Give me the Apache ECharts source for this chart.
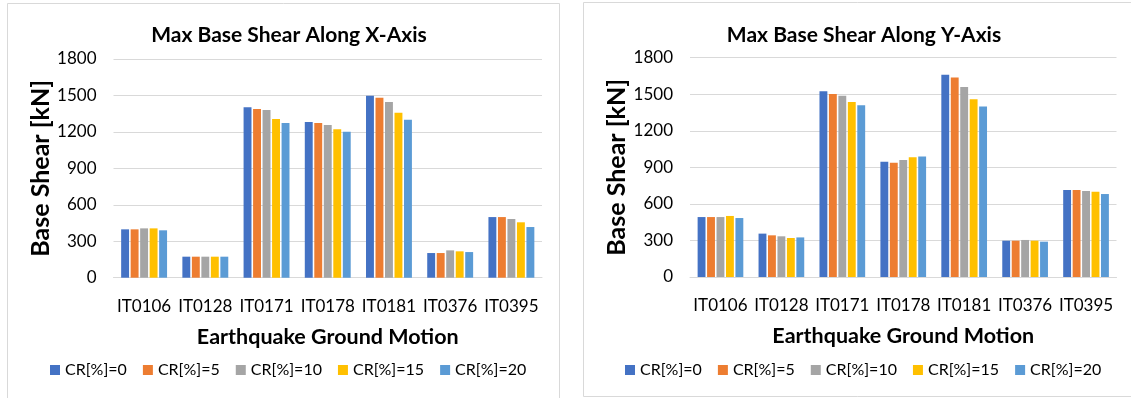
<!DOCTYPE html>
<html>
<head>
<meta charset="utf-8">
<script src="https://cdn.jsdelivr.net/npm/echarts@6/dist/echarts.min.js"></script>
<style>
html,body{margin:0;padding:0;background:#fff;}
#chart{width:1131px;height:398px;}
</style>
</head>
<body>
<div id="chart"></div>
<script>
const categories = ['IT0106', 'IT0128', 'IT0171', 'IT0178', 'IT0181', 'IT0376', 'IT0395'];
const seriesNames = ['CR[%]=0', 'CR[%]=5', 'CR[%]=10', 'CR[%]=15', 'CR[%]=20'];
const yTicks = [0, 300, 600, 900, 1200, 1500, 1800];

// Max base shear along X-axis (kN)
const xCR0 = [398, 173, 1402, 1282, 1498, 203, 499];
const xCR5 = [398, 173, 1389, 1273, 1482, 203, 499];
const xCR10 = [406, 173, 1380, 1257, 1446, 225, 483];
const xCR15 = [406, 173, 1306, 1221, 1358, 217, 456];
const xCR20 = [390, 173, 1273, 1202, 1301, 211, 417];

// Max base shear along Y-axis (kN)
const yCR0 = [492, 356, 1524, 946, 1660, 298, 714];
const yCR5 = [492, 342, 1502, 938, 1638, 298, 714];
const yCR10 = [492, 334, 1488, 960, 1559, 304, 706];
const yCR15 = [501, 320, 1436, 982, 1458, 298, 700];
const yCR20 = [484, 325, 1409, 990, 1400, 290, 681];

const colors = ['#4472C4', '#ED7D31', '#A5A5A5', '#FFC000', '#5B9BD5'];
const FONT = 'Lato';
const xData = [xCR0, xCR5, xCR10, xCR15, xCR20];
const yData = [yCR0, yCR5, yCR10, yCR15, yCR20];

function xAxisCfg(gi) {
  return {
    type: 'category', gridIndex: gi, data: categories,
    axisLine: {show: true, lineStyle: {color: '#d9d9d9', width: 1}},
    axisTick: {show: false},
    axisLabel: {color: '#000', fontSize: 17, fontFamily: FONT, margin: 20, interval: 0},
    name: 'Earthquake Ground Motion', nameLocation: 'middle', nameGap: 48,
    nameTextStyle: {color: '#000', fontSize: 21.5, fontWeight: 'bold', fontFamily: FONT}
  };
}
function yAxisCfg(gi) {
  return {
    type: 'value', gridIndex: gi, min: yTicks[0], max: yTicks[yTicks.length - 1], interval: 300,
    axisLine: {show: false}, axisTick: {show: false},
    splitLine: {lineStyle: {color: '#d9d9d9', width: 1}},
    axisLabel: {color: '#000', fontSize: 17, fontFamily: FONT, margin: 17, formatter: v => String(v)},
    name: 'Base Shear [kN]', nameLocation: 'middle', nameGap: 57,
    nameTextStyle: {color: '#000', fontSize: 25, fontWeight: 'bold', fontFamily: FONT}
  };
}
function makeSeries(data, gi) {
  return data.map((d, i) => ({
    name: seriesNames[i], type: 'bar', xAxisIndex: gi, yAxisIndex: gi,
    data: d, barGap: '20%', barCategoryGap: '25%',
    itemStyle: {color: colors[i]}
  }));
}
function legendCfg(left) {
  return {
    data: seriesNames, left: left, top: 362, padding: 0,
    icon: 'rect', itemWidth: 10, itemHeight: 10, itemGap: 16,
    textStyle: {color: '#000', fontSize: 16, fontFamily: FONT}
  };
}

const chart = echarts.init(document.getElementById('chart'), null, {renderer: 'canvas'});
chart.setOption({
  animation: false,
  backgroundColor: '#fff',
  color: colors,
  textStyle: {fontFamily: FONT},
  title: [
    {text: 'Max Base Shear Along X-Axis', left: 284, top: 20, textAlign: 'center',
     textStyle: {color: '#000', fontSize: 21, fontWeight: 'bold', fontFamily: FONT}},
    {text: 'Max Base Shear Along Y-Axis', left: 859, top: 20, textAlign: 'center',
     textStyle: {color: '#000', fontSize: 21, fontWeight: 'bold', fontFamily: FONT}}
  ],
  legend: [legendCfg(50), legendCfg(625)],
  grid: [
    {left: 113.5, right: 589, top: 59, bottom: 120.3},
    {left: 690, right: 14.5, top: 57.7, bottom: 121}
  ],
  xAxis: [xAxisCfg(0), xAxisCfg(1)],
  yAxis: [yAxisCfg(0), yAxisCfg(1)],
  series: makeSeries(xData, 0).concat(makeSeries(yData, 1)),
  graphic: [
    {type: 'rect', shape: {x: 7.5, y: 3.5, width: 552, height: 400}, style: {fill: 'none', stroke: '#d9d9d9', lineWidth: 1}, z: -1},
    {type: 'rect', shape: {x: 583.5, y: 2.5, width: 560, height: 394}, style: {fill: 'none', stroke: '#d9d9d9', lineWidth: 1}, z: -1}
  ]
});
</script>
</body>
</html>
